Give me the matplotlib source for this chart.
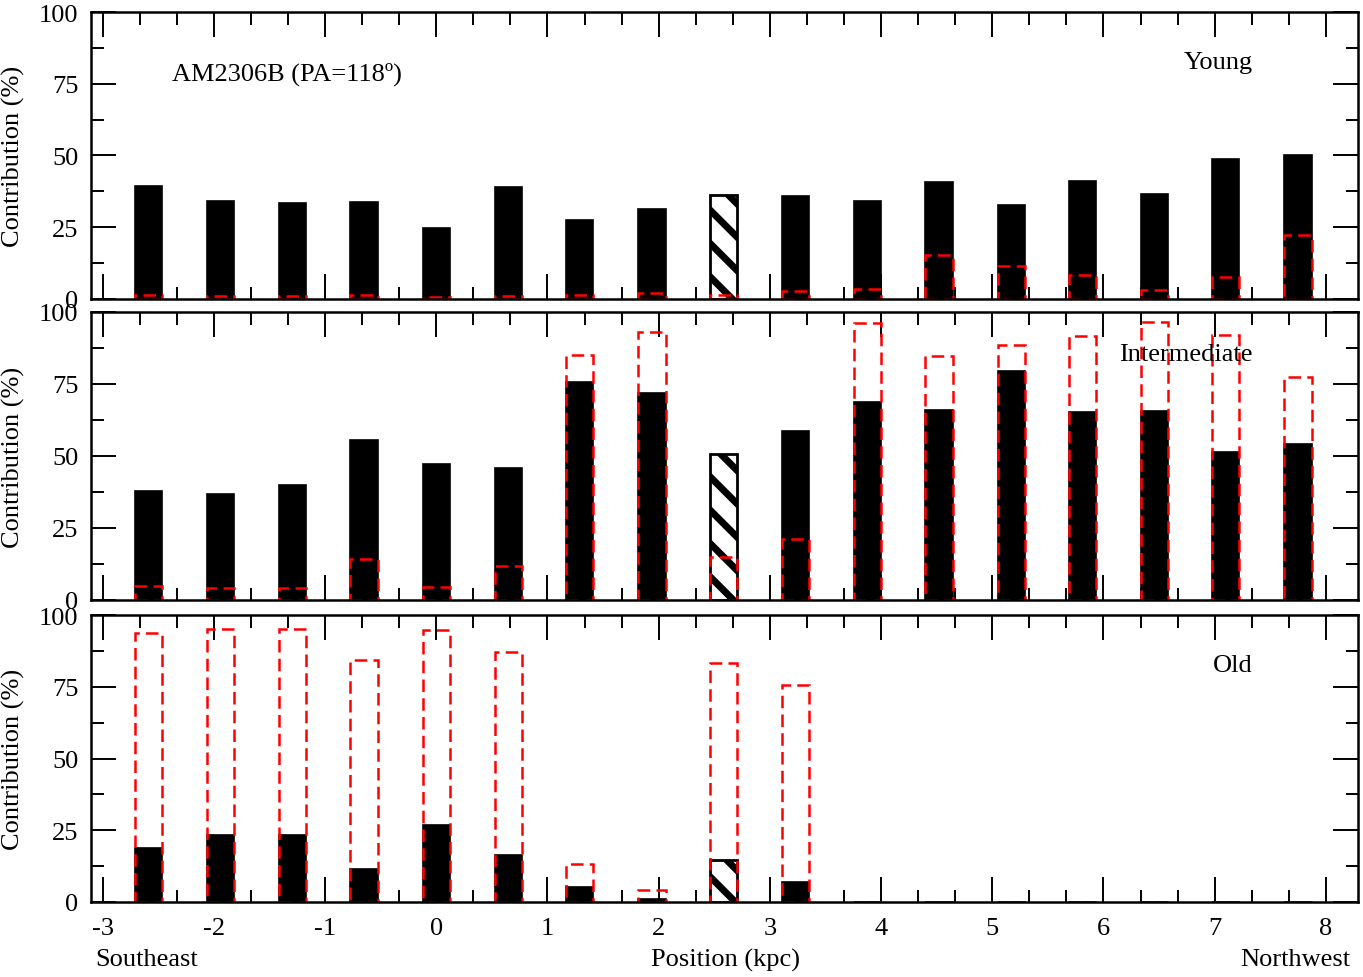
import matplotlib
matplotlib.use('Agg')
import matplotlib.pyplot as plt
import numpy as np

matplotlib.rcParams['font.family'] = 'Liberation Serif'
matplotlib.rcParams['font.size'] = 19
matplotlib.rcParams['axes.unicode_minus'] = False
matplotlib.rcParams['hatch.linewidth'] = 5.0
matplotlib.rcParams['hatch.color'] = 'black'

# aperture positions along the slit (kpc)
positions = [-2.59, -1.94, -1.29, -0.65, 0.00, 0.65, 1.29, 1.94, 2.58,
             3.23, 3.88, 4.52, 5.17, 5.81, 6.46, 7.10, 7.75]
nucleus_index = 8

# light-weighted contributions (black bars)
young_light = [39.5, 34.0, 33.3, 33.7, 24.8, 38.9, 27.5, 31.2, 36.3,
               36.0, 34.1, 40.9, 32.9, 41.0, 36.6, 48.9, 50.2]
inter_light = [37.7, 36.9, 39.8, 55.6, 47.1, 45.7, 75.7, 71.9, 50.8,
               58.8, 68.9, 65.9, 79.4, 65.3, 65.5, 51.5, 54.1]
old_light = [18.7, 23.2, 23.2, 11.6, 26.9, 16.3, 5.1, 1.0, 14.6,
             6.9, 0, 0, 0, 0, 0, 0, 0]

# mass-weighted contributions (red dashed bars)
young_mass = [1.4, 1.2, 1.0, 1.4, 0.8, 1.0, 1.5, 2.2, 1.5,
              2.7, 3.6, 15.3, 11.6, 8.2, 3.2, 7.8, 22.4]
inter_mass = [4.8, 4.1, 4.1, 14.3, 4.4, 11.7, 85.2, 93.2, 14.9,
              21.3, 96.3, 84.8, 88.4, 91.8, 96.5, 92.1, 77.5]
old_mass = [93.8, 95.0, 95.0, 84.2, 94.9, 87.2, 13.1, 4.1, 83.3,
            75.7, 0, 0, 0, 0, 0, 0, 0]

panels = [
    ('Young', young_light, young_mass, 0.826),
    ('Intermediate', inter_light, inter_mass, 0.855),
    ('Old', old_light, old_mass, 0.826),
]

bar_width = 0.245

fig = plt.figure(figsize=(13.63, 9.78), dpi=100)
rects = [
    [0.0668, 0.6933, 0.9296, 0.2934],
    [0.0668, 0.3855, 0.9296, 0.2945],
    [0.0668, 0.0767, 0.9296, 0.2934],
]

axes = []
for rect, (name, light, mass, label_y) in zip(rects, panels):
    ax = fig.add_axes(rect)
    axes.append(ax)

    face = ['black'] * len(positions)
    face[nucleus_index] = 'white'
    bars = ax.bar(positions, light, width=bar_width, color=face,
                  edgecolor='black', linewidth=1.2, zorder=2)
    bars[nucleus_index].set_hatch('\\')
    bars[nucleus_index].set_linewidth(2)

    ax.bar(positions, mass, width=bar_width, fill=False, edgecolor='red',
           linewidth=1.8, linestyle=(0, (5, 2.5)), zorder=3)

    ax.set_xlim(-3.105, 8.29)
    ax.set_ylim(0, 100)
    ax.set_xticks(np.arange(-3, 9, 1))
    ax.set_xticks(np.arange(-3, 8.3, 1 / 3), minor=True)
    ax.set_yticks([0, 25, 50, 75, 100])
    ax.set_yticks(np.arange(0, 101, 12.5), minor=True)
    ax.tick_params(which='both', direction='in', top=True, right=True,
                   width=1.4, labelsize=19)
    ax.tick_params(which='major', length=18, pad=9)
    ax.tick_params(which='minor', length=9)
    ax.tick_params(axis='x', which='major', pad=11)
    for sp in ax.spines.values():
        sp.set_linewidth(1.8)
        sp.set_zorder(5)

    ax.set_ylabel('Contribution (%)', fontsize=19)
    ax.yaxis.set_label_coords(-0.052, 0.5)

    ax.text(0.917, label_y, name, transform=ax.transAxes,
            ha='right', va='center', fontsize=19)

    if name != 'Old':
        ax.tick_params(axis='x', labelbottom=False)

axes[0].text(0.064, 0.787, 'AM2306B (PA=118º)', transform=axes[0].transAxes,
             ha='left', va='center', fontsize=19)

fig.text(0.0697, 0.018, 'Southeast', ha='left', va='center', fontsize=19)
fig.text(0.532, 0.018, 'Position (kpc)', ha='center', va='center', fontsize=19)
fig.text(0.9905, 0.018, 'Northwest', ha='right', va='center', fontsize=19)

plt.savefig('out.png', dpi=100)
